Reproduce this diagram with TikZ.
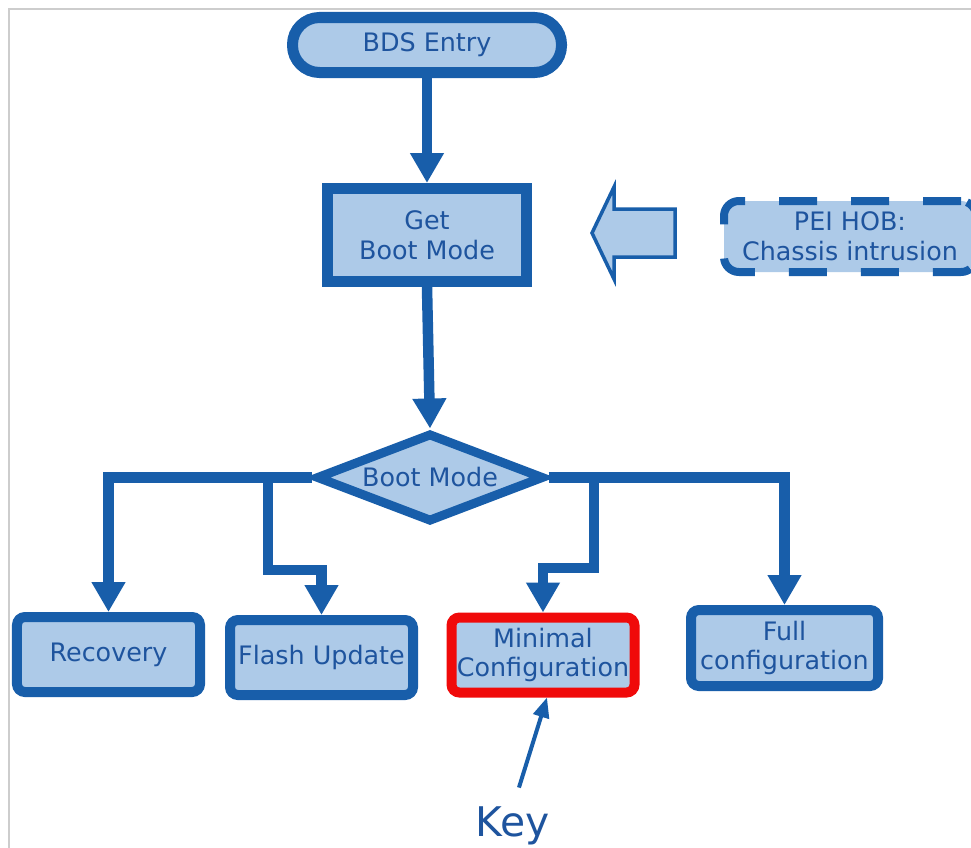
\documentclass[tikz,border=0pt]{standalone}
\usepackage{fontspec}
\setmainfont{DejaVu Sans}
\usetikzlibrary{arrows.meta,shapes.geometric}
\definecolor{bdr}{RGB}{24,94,170}
\definecolor{fil}{RGB}{173,202,232}
\definecolor{txt}{RGB}{30,84,158}
\definecolor{keyred}{RGB}{240,10,10}
\definecolor{frame}{RGB}{205,205,205}
\begin{document}
\begin{tikzpicture}[x=1bp,y=-1bp,
  every node/.style={text=txt, font=\fontsize{25.5}{30}\selectfont, align=center},
  box/.style={draw=bdr, fill=fil, line width=10bp, rounded corners=8bp, inner sep=0pt,
              minimum width=183bp, minimum height=75bp},
  flow/.style={draw=bdr, line width=10.5bp, -{Triangle[width=32bp,length=30bp]}},
  branch/.style={draw=bdr, line width=10.5bp}]
\clip (0,0) rectangle (971,848);
\fill[white] (0,0) rectangle (971,848);
\draw[frame, line width=2bp] (9,848) -- (9,9) -- (971,9);

% nodes
\node[draw=bdr, fill=fil, line width=11bp, rounded corners=27bp, inner sep=0pt,
      minimum width=269bp, minimum height=55bp] (bds) at (427,45) {BDS Entry};
\node[draw=bdr, fill=fil, line width=11bp, inner sep=0pt,
      minimum width=199bp, minimum height=93bp] (gbm) at (427,235) {Get\\Boot Mode};
\node[draw=bdr, fill=fil, line width=8bp, rounded corners=15bp, inner sep=0pt,
      dash pattern=on 38bp off 34bp,
      minimum width=252bp, minimum height=71bp] (pei) at (850,236.5) {PEI HOB:\\Chassis intrusion};
\node[diamond, draw=bdr, fill=fil, line width=9bp, aspect=2.5, inner sep=0pt,
      minimum width=228bp, minimum height=89bp] (dm) at (430,477.5) {Boot Mode};

\node[box] (rec) at (108.5,654.5) {Recovery};
\node[box] (fl) at (321.5,657.5) {Flash Update};
\node[box, draw=keyred] (mc) at (543,655) {Minimal\\Configuration};
\node[box, minimum width=187bp, minimum height=76bp] (fc) at (784.5,648) {Full\\configuration};

\node[font=\fontsize{41}{44}\selectfont, inner sep=0pt] (key) at (513,826) {Key};

% hollow arrow from PEI HOB towards Get Boot Mode
\draw[bdr, line width=3.5bp, fill=fil, line join=miter]
  (592,233) -- (614,187) -- (614,209) -- (675,209) -- (675,257) -- (614,257) -- (614,279) -- cycle;

% connectors
\draw[flow] (bds.south) -- (gbm.north);
\draw[flow] (gbm.south) -- (dm.north);

\coordinate (b1) at (268,478);
\coordinate (e1) at (268,570);
\coordinate (b2) at (594,478);
\coordinate (e2) at (594,568);

\draw[flow] (dm.west) -| (rec.north);
\draw[flow] (b1) -- (e1) -| (fl.north);
\draw[flow] (dm.east) -| (fc.north);
\draw[flow] (b2) -- (e2) -| (mc.north);

\draw[bdr, line width=4bp, -{Triangle[width=16bp,length=20bp]}, shorten <=20bp]
  (key.north) -- ([xshift=4bp]mc.south);
\end{tikzpicture}
\end{document}
